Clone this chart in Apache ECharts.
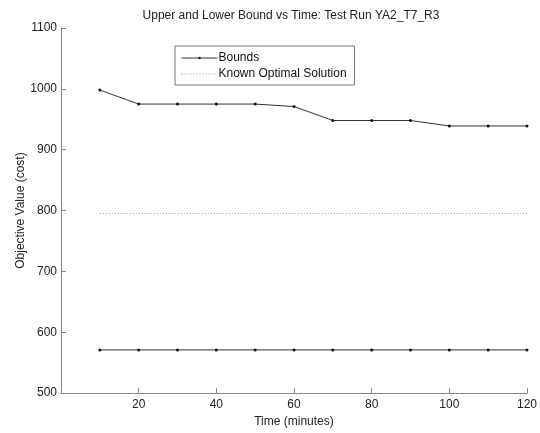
<!DOCTYPE html>
<html>
<head>
<meta charset="utf-8">
<script src="https://cdn.jsdelivr.net/npm/echarts@6/dist/echarts.min.js"></script>
<style>html,body{margin:0;padding:0;background:#fff}#c{width:540px;height:433px}</style>
</head>
<body>
<div id="c"></div>
<script>
const times = [10, 20, 30, 40, 50, 60, 70, 80, 90, 100, 110, 120];
const upperBound = [998, 975, 975, 975, 975, 971, 948, 948, 948, 939, 939, 939];
const lowerBound = [571, 571, 571, 571, 571, 571, 571, 571, 571, 571, 571, 571];
const knownOptimal = [795, 795, 795, 795, 795, 795, 795, 795, 795, 795, 795, 795];
const xTicks = [20, 40, 60, 80, 100, 120];
const yTicks = [500, 600, 700, 800, 900, 1000, 1100];

const pairs = (xs, ys) => xs.map((x, i) => [x, ys[i]]);
const font = 'Liberation Sans, Arial, sans-serif';
const chart = echarts.init(document.getElementById('c'));
const boundStyle = {
  type: 'line', symbol: 'circle', symbolSize: 3, showSymbol: true,
  itemStyle: { color: '#111' }, lineStyle: { color: '#333', width: 1 },
  animation: false
};
chart.setOption({
  animation: false,
  title: {
    text: 'Upper and Lower Bound vs Time: Test Run YA2_T7_R3',
    left: 286, top: 5, textAlign: 'center',
    textStyle: { fontFamily: font, fontSize: 12, fontWeight: 'normal', color: '#222' }
  },
  grid: { left: 61, right: 9, top: 28, bottom: 37 },
  legend: {
    left: 175, top: 46, width: 170, orient: 'vertical',
    padding: [5, 8, 4, 6], itemGap: 2, itemWidth: 36, itemHeight: 3,
    borderColor: '#777', borderWidth: 1, backgroundColor: '#fff',
    textStyle: { fontFamily: font, fontSize: 12, color: '#111', padding: [0, 0, 0, -4], lineHeight: 14 },
    data: [
      { name: 'Bounds', lineStyle: { width: 1, color: '#333' } },
      { name: 'Known Optimal Solution', itemStyle: { opacity: 0 }, lineStyle: { width: 1, color: '#999', type: [1, 2] } }
    ]
  },
  xAxis: {
    type: 'value', min: 0, max: 120, interval: 20,
    name: 'Time (minutes)', nameLocation: 'middle', nameGap: 22,
    nameTextStyle: { fontFamily: font, fontSize: 12, color: '#222' },
    axisLine: { lineStyle: { color: '#888' } },
    axisTick: { inside: true, length: 5, lineStyle: { color: '#888' } },
    axisLabel: { fontFamily: font, fontSize: 12, color: '#222', margin: 6,
      formatter: v => xTicks.includes(v) ? String(v) : '' },
    splitLine: { show: false }
  },
  yAxis: {
    type: 'value', min: 500, max: 1100, interval: 100,
    name: 'Objective Value (cost)', nameLocation: 'middle', nameGap: 34,
    nameMoveOverlap: false,
    nameTextStyle: { fontFamily: font, fontSize: 12, color: '#222' },
    axisLine: { show: true, lineStyle: { color: '#888' } },
    axisTick: { show: true, inside: true, length: 5, lineStyle: { color: '#888' } },
    axisLabel: { fontFamily: font, fontSize: 12, color: '#222', margin: 4,
      formatter: v => yTicks.includes(v) ? String(v) : '' },
    splitLine: { show: false }
  },
  series: [
    Object.assign({ name: 'Bounds', data: pairs(times, upperBound) }, boundStyle),
    Object.assign({ name: 'Bounds', data: pairs(times, lowerBound) }, boundStyle),
    {
      name: 'Known Optimal Solution', type: 'line', showSymbol: false, symbol: 'none',
      data: pairs(times, knownOptimal),
      itemStyle: { color: '#999' },
      lineStyle: { color: '#999', width: 1, type: [1, 2] }
    }
  ]
});
</script>
</body>
</html>
